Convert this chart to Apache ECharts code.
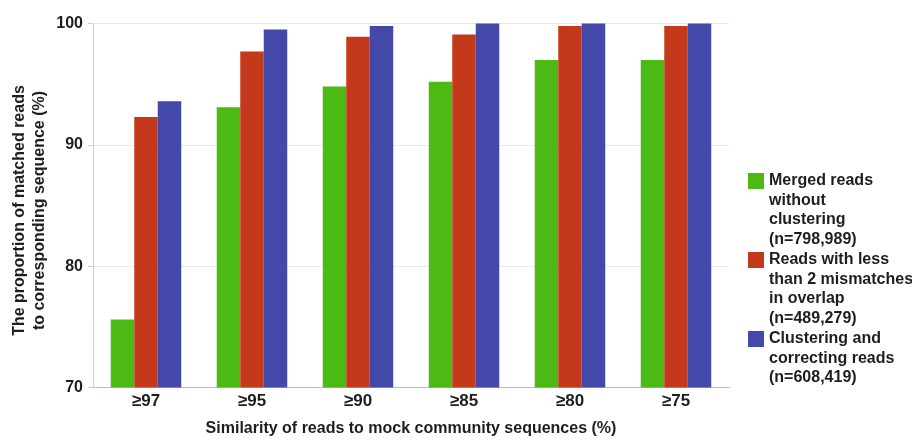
<!DOCTYPE html>
<html>
<head>
<meta charset="utf-8">
<script src="https://cdn.jsdelivr.net/npm/echarts@6/dist/echarts.min.js"></script>
<style>
  html, body { margin: 0; padding: 0; background: #fff; }
  #chart { width: 912px; height: 441px; }
</style>
</head>
<body>
<div id="chart"></div>
<script>
const categories = ['≥97', '≥95', '≥90', '≥85', '≥80', '≥75'];
const seriesNames = [
  'Merged reads\nwithout\nclustering\n(n=798,989)',
  'Reads with less\nthan 2 mismatches\nin overlap\n(n=489,279)',
  'Clustering and\ncorrecting reads\n(n=608,419)\n'
];
const mergedReads = [75.6, 93.1, 94.8, 95.2, 97.0, 97.0];
const lessMismatch = [92.3, 97.7, 98.9, 99.1, 99.8, 99.8];
const clusteringReads = [93.6, 99.5, 99.8, 100, 100, 100];
const yTicks = [70, 80, 90, 100];
const colors = ['#4cb914', '#c4391b', '#4448a8'];

const font = '"Liberation Sans", Arial, sans-serif';
// square sitting at the top of a tall legend slot, so it lines up with the first text line
const legendIcon = 'path://M0,0L0.01,0L0.01,0.01Z M0,2L16,2L16,18L0,18Z M0,77.99L0.01,78L0,78Z';

const chart = echarts.init(document.getElementById('chart'));

chart.setOption({
  animation: false,
  color: colors,
  grid: { left: 93, right: 183, top: 23.5, bottom: 53.5, outerBoundsMode: 'none' },
  legend: {
    orient: 'vertical',
    left: 748,
    top: 171,
    padding: 0,
    icon: legendIcon,
    itemWidth: 16,
    itemHeight: 78,
    itemGap: 1,
    textStyle: {
      fontFamily: font,
      fontWeight: 'bold',
      fontSize: 16,
      lineHeight: 19.5,
      color: '#1e1e1e'
    },
    data: seriesNames
  },
  xAxis: {
    type: 'category',
    data: categories,
    name: 'Similarity of reads to mock community sequences (%)',
    nameLocation: 'middle',
    nameGap: 41.5,
    nameMoveOverlap: false,
    nameTextStyle: {
      fontFamily: font,
      fontWeight: 'bold',
      fontSize: 16,
      color: '#1e1e1e',
      verticalAlign: 'middle'
    },
    axisLine: { lineStyle: { color: '#bdbdbd', width: 1 } },
    axisTick: { length: 4, lineStyle: { color: '#bdbdbd' } },
    axisLabel: {
      margin: 5,
      fontFamily: font,
      fontWeight: 'bold',
      fontSize: 17,
      color: '#1e1e1e'
    }
  },
  yAxis: {
    type: 'value',
    min: yTicks[0],
    max: yTicks[yTicks.length - 1],
    interval: 10,
    name: 'The proportion of matched reads\nto corresponding sequence (%)',
    nameLocation: 'middle',
    nameRotate: 90,
    nameGap: 63,
    nameMoveOverlap: false,
    nameTextStyle: {
      fontFamily: font,
      fontWeight: 'bold',
      fontSize: 16,
      lineHeight: 20,
      color: '#1e1e1e',
      verticalAlign: 'middle',
      padding: [0, 10, 0, 0]
    },
    axisLine: { show: true, lineStyle: { color: '#cfcfcf', width: 1 } },
    axisTick: { show: true, length: 5, lineStyle: { color: '#cfcfcf' } },
    axisLabel: {
      margin: 10,
      fontFamily: font,
      fontWeight: 'bold',
      fontSize: 16,
      color: '#1e1e1e'
    },
    splitLine: { lineStyle: { color: '#e9e9e9', width: 1 } }
  },
  series: [
    { name: seriesNames[0], type: 'bar', data: mergedReads, barWidth: 23.5, barGap: '0%' },
    { name: seriesNames[1], type: 'bar', data: lessMismatch, barWidth: 23.5, barGap: '0%' },
    { name: seriesNames[2], type: 'bar', data: clusteringReads, barWidth: 23.5, barGap: '0%' }
  ]
});
</script>
</body>
</html>
